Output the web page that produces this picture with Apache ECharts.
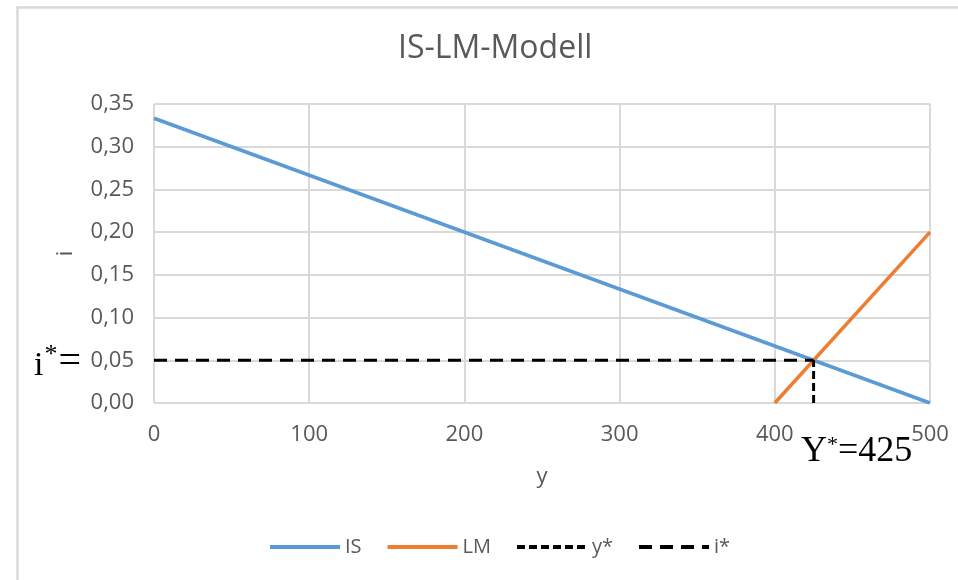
<!DOCTYPE html>
<html>
<head>
<meta charset="utf-8">
<style>
  html, body { margin: 0; padding: 0; background: #ffffff; }
  #chart { width: 958px; height: 580px; }
</style>
<script src="https://cdn.jsdelivr.net/npm/echarts@6/dist/echarts.min.js"></script>
</head>
<body>
<div id="chart"></div>
<script>
// IS curve: i = (500 - y) / 1500
const isY = [0, 500];
const isI = [0.3333, 0];
// LM curve: i = (y - 400) / 500
const lmY = [400, 500];
const lmI = [0, 0.2];
// Equilibrium guides
const yStarY = [425, 425];
const yStarI = [0, 0.05];
const iStarY = [0, 425];
const iStarI = [0.05, 0.05];

const xTicks = [0, 100, 200, 300, 400, 500];
const yTicks = [0, 0.05, 0.10, 0.15, 0.20, 0.25, 0.30, 0.35];

const pairs = (xs, ys) => xs.map((x, k) => [x, ys[k]]);

const textColor = '#595959';
const font = '"Open Sans", "Noto Sans", sans-serif';
const serif = '"Liberation Serif", "Times New Roman", serif';

const chart = echarts.init(document.getElementById('chart'), null, { renderer: 'canvas' });

chart.setOption({
  animation: false,
  backgroundColor: '#ffffff',
  title: {
    text: 'IS-LM-Modell',
    left: 393,
    top: 28,
    textStyle: { color: textColor, fontFamily: font, fontWeight: 'normal', fontSize: 32 }
  },
  grid: { left: 154, right: 28, top: 104, bottom: 177 },
  xAxis: {
    type: 'value',
    min: xTicks[0],
    max: xTicks[xTicks.length - 1],
    interval: 100,
    name: 'y',
    nameLocation: 'middle',
    nameGap: 63,
    nameTextStyle: { color: textColor, fontFamily: font, fontSize: 22 },
    axisLine: { show: false },
    axisTick: { show: false },
    axisLabel: { color: textColor, fontFamily: font, fontSize: 22, margin: 21 },
    splitLine: { show: true, lineStyle: { color: '#d9d9d9', width: 2 } }
  },
  yAxis: {
    type: 'value',
    min: yTicks[0],
    max: yTicks[yTicks.length - 1],
    interval: 0.05,
    name: 'i',
    nameLocation: 'middle',
    nameGap: 77,
    nameRotate: 90,
    nameTextStyle: { color: textColor, fontFamily: font, fontSize: 22 },
    axisLine: { show: false },
    axisTick: { show: false },
    axisLabel: {
      color: textColor, fontFamily: font, fontSize: 22, margin: 20,
      formatter: v => v.toFixed(2).replace('.', ',')
    },
    splitLine: { show: true, lineStyle: { color: '#d9d9d9', width: 2 } }
  },
  legend: {
    bottom: 18,
    left: 263,
    itemWidth: 70,
    itemHeight: 14,
    itemGap: 24,
    itemStyle: { opacity: 0 },
    lineStyle: { width: 4 },
    textStyle: { color: textColor, fontFamily: font, fontSize: 20 },
    data: ['IS', 'LM', 'y*', 'i*']
  },
  series: [
    {
      name: 'IS', type: 'line', data: pairs(isY, isI), symbol: 'none',
      lineStyle: { color: '#5b9bd5', width: 3.5 }, itemStyle: { color: '#5b9bd5' }, z: 3
    },
    {
      name: 'LM', type: 'line', data: pairs(lmY, lmI), symbol: 'none',
      lineStyle: { color: '#ed7d31', width: 3.5 }, itemStyle: { color: '#ed7d31' }, z: 3
    },
    {
      name: 'y*', type: 'line', data: pairs(yStarY, yStarI), symbol: 'none',
      lineStyle: { color: '#000000', width: 3, type: [8, 4] }, itemStyle: { color: '#000000' }, z: 4
    },
    {
      name: 'i*', type: 'line', data: pairs(iStarY, iStarI), symbol: 'none',
      lineStyle: { color: '#000000', width: 3, type: [13, 8] }, itemStyle: { color: '#000000' }, z: 4
    }
  ],
  graphic: [
    {
      type: 'rect', left: 15, top: 5, silent: true,
      shape: { width: 960, height: 590 },
      style: { fill: 'none', stroke: '#d9d9d9', lineWidth: 2.5 }
    },
    {
      type: 'text', left: 34, top: 342, silent: true,
      style: {
        text: '{i|i}{s|*}{e|=}',
        rich: {
          i: { font: '34px ' + serif, fill: '#000000', verticalAlign: 'bottom' },
          s: { font: '26px ' + serif, fill: '#000000', verticalAlign: 'top', padding: [0, 1, 14, 1] },
          e: { font: '40px ' + serif, fill: '#000000', verticalAlign: 'bottom', padding: [0, 0, 1, 0] }
        }
      }
    },
    {
      type: 'text', left: 801, top: 434, silent: true,
      style: {
        text: '{b|Y}{s|*}{b|=425}',
        rich: {
          b: { font: '36px ' + serif, fill: '#000000', verticalAlign: 'bottom' },
          s: { font: '22px ' + serif, fill: '#000000', verticalAlign: 'top', padding: [0, 0, 14, 0] }
        }
      }
    }
  ]
});
</script>
</body>
</html>
